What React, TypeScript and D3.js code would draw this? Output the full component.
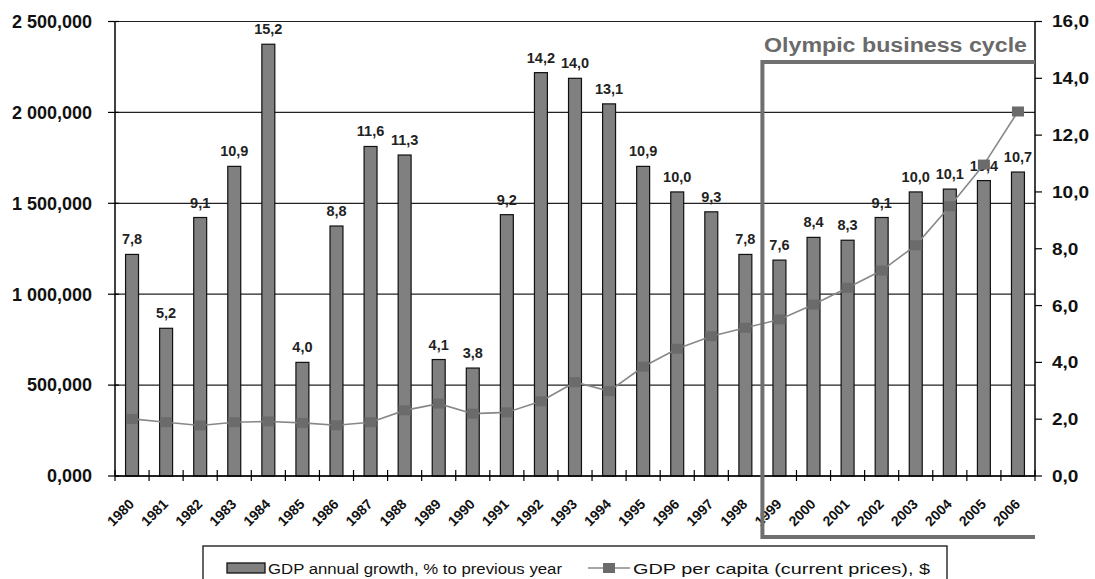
import React from "react";
import * as d3 from "d3";

// Years on the x axis
const years: string[] = [
  "1980", "1981", "1982", "1983", "1984", "1985", "1986", "1987", "1988",
  "1989", "1990", "1991", "1992", "1993", "1994", "1995", "1996", "1997",
  "1998", "1999", "2000", "2001", "2002", "2003", "2004", "2005", "2006",
];

// GDP annual growth, % to previous year (bars, right axis)
const growth: number[] = [
  7.8, 5.2, 9.1, 10.9, 15.2, 4.0, 8.8, 11.6, 11.3, 4.1, 3.8, 9.2, 14.2, 14.0,
  13.1, 10.9, 10.0, 9.3, 7.8, 7.6, 8.4, 8.3, 9.1, 10.0, 10.1, 10.4, 10.7,
];

// GDP per capita (current prices), $ (line, left axis)
const perCapita: number[] = [
  314, 296, 278, 296, 300, 292, 279, 296, 361, 398, 343, 350, 411, 516, 467,
  601, 700, 769, 815, 861, 943, 1035, 1130, 1269, 1484, 1713, 2005,
];

const leftTicks: number[] = [0, 500, 1000, 1500, 2000, 2500];
const leftTickLabels: string[] = ["0,000", "500,000", "1 000,000", "1 500,000", "2 000,000", "2 500,000"];
const rightTicks: number[] = [0, 2, 4, 6, 8, 10, 12, 14, 16];
const rightTickLabels: string[] = ["0,0", "2,0", "4,0", "6,0", "8,0", "10,0", "12,0", "14,0", "16,0"];

const cycleStart = "1999";
const cycleLabel = "Olympic business cycle";
const legendBars = "GDP annual growth, % to previous year";
const legendLine = "GDP per capita (current prices), $";

const W = 1095;
const H = 579;
const left = 115;
const right = 1035;
const top = 21.5;
const bottom = 476;
const font = "'Liberation Sans', Arial, sans-serif";

const App: React.FC = () => {
  const x = d3
    .scaleBand<string>()
    .domain(years)
    .range([left, right])
    .paddingInner(0.62)
    .paddingOuter(0.31);
  const step = x.step();
  const cx = (y: string) => (x(y) || 0) + x.bandwidth() / 2;

  const yL = d3.scaleLinear().domain([0, 2500]).range([bottom, top]);
  const yR = d3.scaleLinear().domain([0, 16]).range([bottom, top]);

  const line = d3
    .line<number>()
    .x((_, i) => cx(years[i]))
    .y((d) => yL(d));

  // x-axis tick positions sit between the bars
  const xTicks = d3.range(years.length + 1).map((i) => left + i * step);

  // Olympic cycle frame starts on the tick just left of 1999
  const boxX = left + years.indexOf(cycleStart) * step;

  const fmt = (v: number) => v.toFixed(1).replace(".", ",");

  return (
    <svg
      width={W}
      height={H}
      style={{ position: "absolute", left: 0, top: 0, background: "#fff" }}
      fontFamily={font}
    >
      {/* gridlines */}
      {leftTicks.map((t) => (
        <line key={t} x1={left} x2={right} y1={yL(t)} y2={yL(t)} stroke="#222" strokeWidth={1.2} />
      ))}

      {/* bars */}
      {growth.map((v, i) => (
        <rect
          key={years[i]}
          x={x(years[i])}
          y={yR(v)}
          width={x.bandwidth()}
          height={bottom - yR(v)}
          fill="#808080"
          stroke="#111"
          strokeWidth={1.2}
        />
      ))}

      {/* bar labels */}
      {growth.map((v, i) => (
        <text
          key={"l" + years[i]}
          x={cx(years[i])}
          y={yR(v) - 10}
          textAnchor="middle"
          fontSize={14.5}
          fontWeight="bold"
          fill="#222"
        >
          {fmt(v)}
        </text>
      ))}

      {/* axes */}
      <line x1={left} x2={left} y1={top} y2={bottom} stroke="#000" strokeWidth={1.5} />
      <line x1={right} x2={right} y1={top} y2={bottom} stroke="#000" strokeWidth={1.5} />
      <line x1={left} x2={right} y1={bottom} y2={bottom} stroke="#000" strokeWidth={1.5} />
      {xTicks.map((t, i) => (
        <line key={"xt" + i} x1={t} x2={t} y1={bottom - 6} y2={bottom + 5} stroke="#000" strokeWidth={1.2} />
      ))}
      {leftTicks.map((t, i) => (
        <g key={"lt" + t}>
          <line x1={left - 7} x2={left + 4} y1={yL(t)} y2={yL(t)} stroke="#000" strokeWidth={1.2} />
          <text
            x={left - 23}
            y={yL(t)}
            dy="0.35em"
            textAnchor="end"
            fontSize={18}
            fontWeight="bold"
            fill="#111"
          >
            {leftTickLabels[i]}
          </text>
        </g>
      ))}
      {rightTicks.map((t, i) => (
        <g key={"rt" + t}>
          <line x1={right} x2={right + 7} y1={yR(t)} y2={yR(t)} stroke="#000" strokeWidth={1.2} />
          <text
            x={right + 17}
            y={yR(t)}
            dy="0.35em"
            fontSize={17}
            fontWeight="bold"
            fill="#111"
            transform={`translate(${right + 17},0) scale(1.12,1) translate(${-(right + 17)},0)`}
          >
            {rightTickLabels[i]}
          </text>
        </g>
      ))}
      {years.map((y) => (
        <text
          key={"x" + y}
          transform={`translate(${cx(y) + 3},${bottom + 29}) rotate(-45)`}
          textAnchor="end"
          fontSize={14}
          fontWeight="bold"
          fill="#111"
        >
          {y}
        </text>
      ))}

      {/* per-capita line */}
      <path d={line(perCapita) || ""} fill="none" stroke="#888" strokeWidth={1.6} />
      {perCapita.map((v, i) => (
        <rect
          key={"m" + years[i]}
          x={cx(years[i]) - 6}
          y={yL(v) - 5}
          width={12}
          height={10}
          fill="#6b6b6b"
        />
      ))}

      {/* Olympic business cycle frame */}
      <path
        d={`M${right},62 H${boxX} V537 H${right}`}
        fill="none"
        stroke="#707070"
        strokeWidth={4}
      />
      <text
        x={764}
        y={52}
        fontSize={19.5}
        fontWeight="bold"
        fill="#6a6a6a"
        textLength={263}
        lengthAdjust="spacingAndGlyphs"
      >
        {cycleLabel}
      </text>

      {/* legend */}
      <rect x={203} y={546} width={744} height={50} fill="#fff" stroke="#111" strokeWidth={1.3} />
      <rect x={227} y={563} width={38} height={10} fill="#808080" stroke="#111" strokeWidth={1.3} />
      <text x={268} y={574} fontSize={14} fill="#111" textLength={294} lengthAdjust="spacingAndGlyphs">
        {legendBars}
      </text>
      <line x1={588} x2={630} y1={568} y2={568} stroke="#888" strokeWidth={1.6} />
      <rect x={603} y={563} width={12} height={10} fill="#6b6b6b" />
      <text x={633} y={574} fontSize={14} fill="#111" textLength={297} lengthAdjust="spacingAndGlyphs">
        {legendLine}
      </text>
    </svg>
  );
};

export default App;
